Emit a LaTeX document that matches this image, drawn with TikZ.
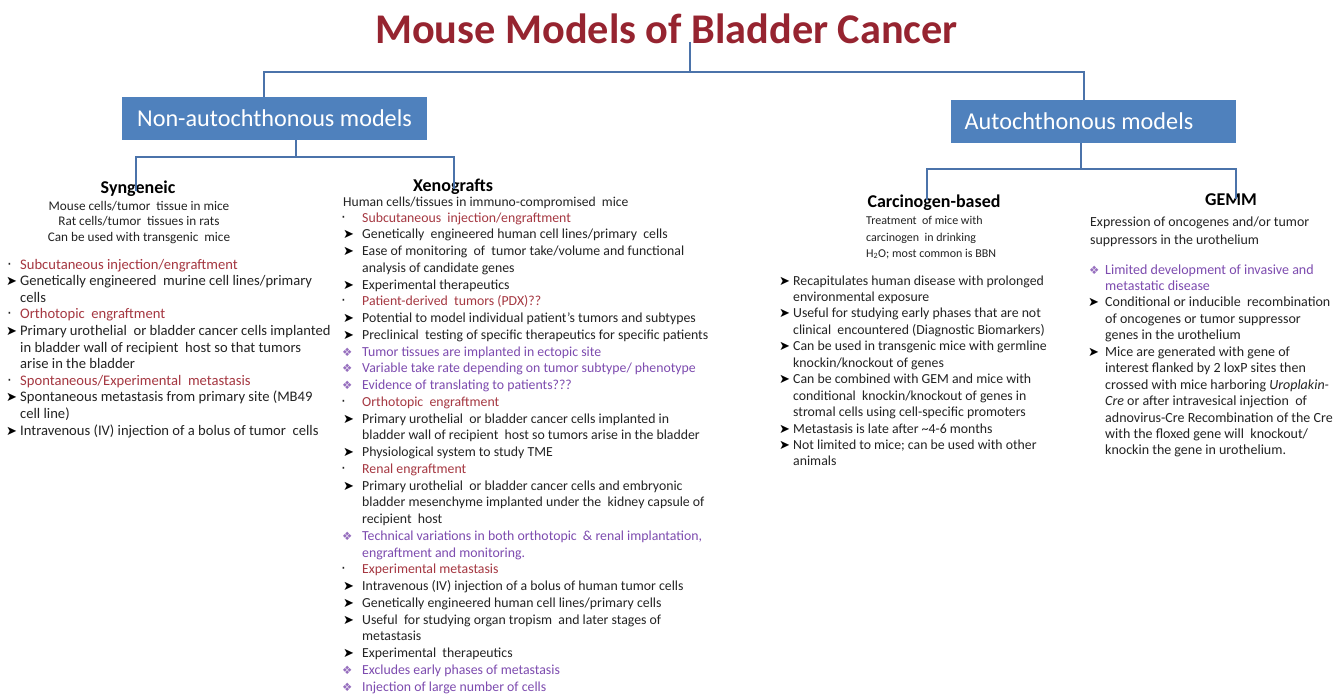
\documentclass[tikz,border=0pt]{standalone}
\usepackage{fontspec}
\setmainfont{Carlito}
\newfontfamily\symf{DejaVu Sans}
\definecolor{txt}{RGB}{35,35,35}
\definecolor{titlered}{RGB}{150,36,48}
\definecolor{redh}{RGB}{165,55,65}
\definecolor{purp}{RGB}{125,75,175}
\definecolor{symp}{RGB}{150,110,190}
\definecolor{boxblue}{RGB}{79,129,189}
\definecolor{connc}{RGB}{75,115,170}
\newcounter{lnc}
\newcommand\Ln[3][]{\stepcounter{lnc}\node[tl,#1] (l\arabic{lnc}) at (#2) {#3};}
\newcommand\Bd[1]{\makebox[#1][l]{\textcolor{txt}{\symf\fontsize{15}{15}\selectfont ·}}}
\newcommand\Ba[1]{\makebox[#1][l]{\textcolor{black}{\symf\fontsize{13}{13}\selectfont ➤}}}
\newcommand\Bs[1]{\makebox[#1][l]{\textcolor{symp}{\symf\fontsize{11.5}{11.5}\selectfont ❖}}}
\begin{document}
\begin{tikzpicture}[x=1pt,y=-1pt,
  tl/.style={anchor=base west,inner sep=0,font=\fontsize{13.8}{16}\selectfont,text=txt},
  big/.style={font=\fontsize{14.6}{16}\selectfont},
  gem/.style={font=\fontsize{14.0}{16}\selectfont},
  desc/.style={anchor=base,inner sep=0,font=\fontsize{13.2}{15}\selectfont,text=txt},
  red/.style={text=redh},
  pur/.style={text=purp},
  head/.style={anchor=base,inner sep=0,font=\fontsize{18}{20}\selectfont\bfseries,text=black},
  bluebox/.style={fill=boxblue,draw=none,text=white,font=\fontsize{24.2}{26}\selectfont,inner sep=0},
  conn/.style={draw=connc,line width=1.1pt}]
\useasboundingbox[fill=white] (0,0) rectangle (1336,694);

% title
\node[anchor=base,inner sep=0,font=\fontsize{42.3}{46}\selectfont\bfseries,text=titlered] (title) at (666.5,43) {Mouse Models of Bladder Cancer};

% level-1 boxes
\node[bluebox,minimum width=305pt,minimum height=43pt] (nonauto) at (274.5,118.5) {Non-autochthonous models};
\node[bluebox,minimum width=285pt,minimum height=43pt] (auto) at (1093,121.5) {\hspace*{-28pt}Autochthonous models};

% headings
\node[head] (syn) at (138,193) {Syngeneic};
\node[head] (xeno) at (453,191) {Xenografts};
\node[head] (carc) at (934,207) {Carcinogen-based};
\node[head] (gemm) at (1231,205) {GEMM};

% connectors
\coordinate (j0) at (690,72);
\coordinate (j1) at (296,157);
\coordinate (j2) at (1081,169);
\draw[conn] ([xshift=23.5pt,yshift=2pt]title.south) -- (j0);
\draw[conn] (j0) -| ([xshift=-10.5pt]nonauto.north);
\draw[conn] (j0) -| ([xshift=-9pt]auto.north);
\draw[conn] ([xshift=21.5pt]nonauto.south) -- (j1);
\draw[conn] (j1) -| ([yshift=-11pt]syn.north -| 136,0);
\draw[conn] (j1) -| ([yshift=-11pt]xeno.north -| 454,0);
\draw[conn] ([xshift=-12pt]auto.south) -- (j2);
\draw[conn] (j2) -| ([yshift=-6pt]carc.north -| 927,0);
\draw[conn] (j2) -| ([yshift=-6pt]gemm.north -| 1236,0);

% ---------- Syngeneic ----------
\node[desc] (sd1) at (139,210) {Mouse cells/tumor\ \ tissue in mice};
\node[desc] (sd2) at (139,225) {Rat cells/tumor\ \ tissues in rats};
\node[desc] (sd3) at (139,241) {Can be used with transgenic\ \ mice};
\Ln[red,big]{7,269}{\Bd{13pt}Subcutaneous injection/engraftment}
\Ln[big]{6,269+16.6}{\Ba{14pt}Genetically engineered\ \ murine cell lines/primary}
\Ln[big]{20,269+16.6*2}{cells}
\Ln[red,big]{7,269+16.6*3}{\Bd{13pt}Orthotopic\ \ engraftment}
\Ln[big]{6,269+16.6*4}{\Ba{14pt}Primary urothelial\ \ or bladder cancer cells implanted}
\Ln[big]{20,269+16.6*5}{in bladder wall of recipient\ \ host so that tumors}
\Ln[big]{20,269+16.6*6}{arise in the bladder}
\Ln[red,big]{7,269+16.6*7}{\Bd{13pt}Spontaneous/Experimental\ \ metastasis}
\Ln[big]{6,269+16.6*8}{\Ba{14pt}Spontaneous metastasis from primary site (MB49}
\Ln[big]{20,269+16.6*9}{cell line)}
\Ln[big]{6,269+16.6*10}{\Ba{14pt}Intravenous (IV) injection of a bolus of tumor\ \ cells}

% ---------- Xenografts ----------
\node[desc,anchor=base west,font=\fontsize{13.6}{15}\selectfont] (xd1) at (343,206) {Human cells/tissues in immuno-compromised\ \ mice};
\Ln[red]{341,222}{\Bd{21pt}Subcutaneous\ \ injection/engraftment}
\Ln{343,222+16.75}{\Ba{19pt}Genetically\ \ engineered human cell lines/primary\ \ cells}
\Ln{343,222+16.75*2}{\Ba{19pt}Ease of monitoring\ \ of\ \ tumor take/volume and functional}
\Ln{362,222+16.75*3}{analysis of candidate genes}
\Ln{343,222+16.75*4}{\Ba{19pt}Experimental therapeutics}
\Ln[red]{341,222+16.75*5}{\Bd{21pt}Patient-derived\ \ tumors (PDX)??}
\Ln{343,222+16.75*6}{\Ba{19pt}Potential to model individual patient’s tumors and subtypes}
\Ln{343,222+16.75*7}{\Ba{19pt}Preclinical\ \ testing of specific therapeutics for specific patients}
\Ln[pur]{342,222+16.75*8}{\Bs{20pt}Tumor tissues are implanted in ectopic site}
\Ln[pur]{342,222+16.75*9}{\Bs{20pt}Variable take rate depending on tumor subtype/ phenotype}
\Ln[pur]{342,222+16.75*10}{\Bs{20pt}Evidence of translating to patients???}
\Ln[red]{341,222+16.75*11}{\Bd{21pt}Orthotopic\ \ engraftment}
\Ln{343,222+16.75*12}{\Ba{19pt}Primary urothelial\ \ or bladder cancer cells implanted in}
\Ln{362,222+16.75*13}{bladder wall of recipient\ \ host so tumors arise in the bladder}
\Ln{343,222+16.75*14}{\Ba{19pt}Physiological system to study TME}
\Ln[red]{341,222+16.75*15}{\Bd{21pt}Renal engraftment}
\Ln{343,222+16.75*16}{\Ba{19pt}Primary urothelial\ \ or bladder cancer cells and embryonic}
\Ln{362,222+16.75*17}{bladder mesenchyme implanted under the\ \ kidney capsule of}
\Ln{362,222+16.75*18}{recipient\ \ host}
\Ln[pur]{342,222+16.75*19}{\Bs{20pt}Technical variations in both orthotopic\ \ \& renal implantation,}
\Ln[pur]{362,222+16.75*20}{engraftment and monitoring.}
\Ln[red]{341,222+16.75*21}{\Bd{21pt}Experimental metastasis}
\Ln{343,222+16.75*22}{\Ba{19pt}Intravenous (IV) injection of a bolus of human tumor cells}
\Ln{343,222+16.75*23}{\Ba{19pt}Genetically engineered human cell lines/primary cells}
\Ln{343,222+16.75*24}{\Ba{19pt}Useful\ \ for studying organ tropism\ \ and later stages of}
\Ln{362,222+16.75*25}{metastasis}
\Ln{343,222+16.75*26}{\Ba{19pt}Experimental\ \ therapeutics}
\Ln[pur]{342,222+16.75*27}{\Bs{20pt}Excludes early phases of metastasis}
\Ln[pur]{342,222+16.75*28}{\Bs{20pt}Injection of large number of cells}

% ---------- Carcinogen-based ----------
\node[desc,anchor=base west,font=\fontsize{12}{14}\selectfont] (cd1) at (866,224) {Treatment\ \ of mice with};
\node[desc,anchor=base west,font=\fontsize{12}{14}\selectfont] (cd2) at (866,241) {carcinogen\ \ in drinking};
\node[desc,anchor=base west,font=\fontsize{12}{14}\selectfont] (cd3) at (866,257) {H\textsubscript{2}O; most common is BBN};
\Ln{779,285}{\Ba{14pt}Recapitulates human disease with prolonged}
\Ln{793,285+16.45}{environmental exposure}
\Ln{779,285+16.45*2}{\Ba{14pt}Useful for studying early phases that are not}
\Ln{793,285+16.45*3}{clinical\ \ encountered (Diagnostic Biomarkers)}
\Ln{779,285+16.45*4}{\Ba{14pt}Can be used in transgenic mice with germline}
\Ln{793,285+16.45*5}{knockin/knockout of genes}
\Ln{779,285+16.45*6}{\Ba{14pt}Can be combined with GEM and mice with}
\Ln{793,285+16.45*7}{conditional\ \ knockin/knockout of genes in}
\Ln{793,285+16.45*8}{stromal cells using cell-specific promoters}
\Ln{779,285+16.45*9}{\Ba{14pt}Metastasis is late after \textasciitilde4-6 months}
\Ln{779,285+16.45*10}{\Ba{14pt}Not limited to mice; can be used with other}
\Ln{793,285+16.45*11}{animals}

% ---------- GEMM ----------
\node[desc,anchor=base west,font=\fontsize{13.9}{15}\selectfont] (gd1) at (1090,226) {Expression of oncogenes and/or tumor};
\node[desc,anchor=base west,font=\fontsize{13.9}{15}\selectfont] (gd2) at (1090,244) {suppressors in the urothelium};
\Ln[pur,gem]{1089,274}{\Bs{16pt}Limited development of invasive and}
\Ln[pur,gem]{1105,274+16.45}{metastatic disease}
\Ln[gem]{1088,274+16.45*2}{\Ba{17pt}Conditional or inducible\ \ recombination}
\Ln[gem]{1105,274+16.45*3}{of oncogenes or tumor suppressor}
\Ln[gem]{1105,274+16.45*4}{genes in the urothelium}
\Ln[gem]{1088,274+16.45*5}{\Ba{17pt}Mice are generated with gene of}
\Ln[gem]{1105,274+16.45*6}{interest flanked by 2 loxP sites then}
\Ln[gem]{1105,274+16.45*7}{crossed with mice harboring \textit{Uroplakin-}}
\Ln[gem]{1105,274+16.45*8}{\textit{Cre} or after intravesical injection\ \ of}
\Ln[gem]{1105,274+16.45*9}{adnovirus-Cre Recombination of the Cre}
\Ln[gem]{1105,274+16.45*10}{with the floxed gene will\ \ knockout/}
\Ln[gem]{1105,274+16.45*11}{knockin the gene in urothelium.}
\end{tikzpicture}
\end{document}
